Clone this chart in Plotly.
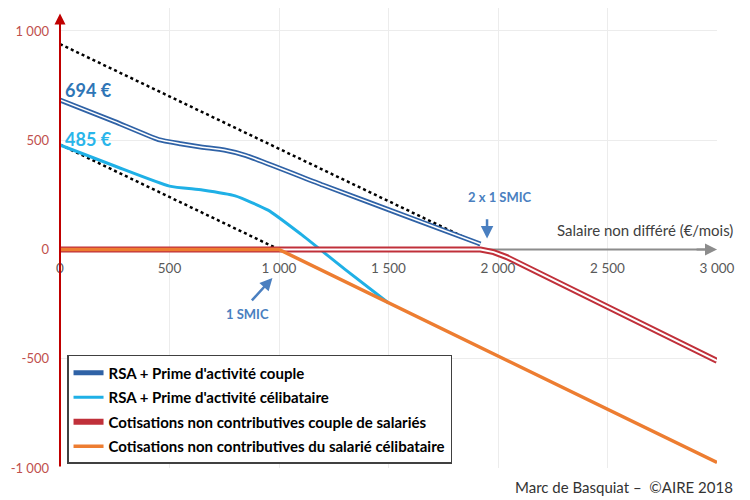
import plotly.graph_objects as go

# ---- data ----
couple_x = [0, 250, 450, 550, 650, 750, 850, 1200, 1600, 1920]
couple_y = [684, 585, 503, 484, 468, 455, 430, 295, 145, 25]

single_x = [0, 250, 500, 650, 800, 950, 1100, 1300, 1500]
single_y = [478, 382, 290, 272, 245, 180, 70, -90, -245]

cot_couple_x = [0, 1920, 1980, 2040, 3000]
cot_couple_y = [0, 0, -12, -35, -510]

cot_single_x = [0, 1000, 3000]
cot_single_y = [0, 0, -975]

dot_couple_x = [0, 1920]
dot_couple_y = [940, 20]
dot_single_x = [0, 1000]
dot_single_y = [480, 0]

x_ticks = [0, 500, 1000, 1500, 2000, 2500, 3000]
x_ticktext = ["0", "500", "1 000", "1 500", "2 000", "2 500", "3 000"]
y_ticks = [-1000, -500, 0, 500, 1000]
y_ticktext = ["-1 000", "-500", "0", "500", "1 000"]

names = ["RSA + Prime d'activité couple",
         "RSA + Prime d'activité célibataire",
         "Cotisations non contributives couple de salariés",
         "Cotisations non contributives du salarié célibataire"]

BLUE_D = "#2f62a6"
BLUE_L = "#1fb0e6"
RED = "#c0303a"
ORANGE = "#ed7d31"
FONT = "Lato"

fig = go.Figure()

# dotted reference lines
for xs, ys in [(dot_couple_x, dot_couple_y), (dot_single_x, dot_single_y)]:
    fig.add_trace(go.Scatter(x=xs, y=ys, mode="lines", showlegend=False,
                             line=dict(color="black", width=2.5, dash="dot"),
                             hoverinfo="skip"))

# couple (double line)
fig.add_trace(go.Scatter(x=couple_x, y=couple_y, mode="lines", name=names[0],
                         legendgroup="a",
                         line=dict(color=BLUE_D, width=5, shape="spline", smoothing=0.4)))
fig.add_trace(go.Scatter(x=couple_x, y=couple_y, mode="lines", showlegend=False,
                         legendgroup="a",
                         line=dict(color="white", width=1.5, shape="spline", smoothing=0.4)))
# single
fig.add_trace(go.Scatter(x=single_x, y=single_y, mode="lines", name=names[1],
                         legendgroup="b",
                         line=dict(color=BLUE_L, width=3, shape="spline", smoothing=0.5)))
# cotisations couple (double line)
fig.add_trace(go.Scatter(x=cot_couple_x, y=cot_couple_y, mode="lines", name=names[2],
                         legendgroup="c",
                         line=dict(color=RED, width=6)))
fig.add_trace(go.Scatter(x=cot_couple_x, y=cot_couple_y, mode="lines", showlegend=False,
                         legendgroup="c",
                         line=dict(color="white", width=2)))
# cotisations single
fig.add_trace(go.Scatter(x=cot_single_x, y=cot_single_y, mode="lines", name=names[3],
                         legendgroup="d",
                         line=dict(color=ORANGE, width=3.5)))

# axes lines
fig.add_shape(type="line", xref="x", yref="y", x0=0, y0=0, x1=2960, y1=0,
              line=dict(color="#8c8c8c", width=2), layer="between")
fig.add_annotation(x=3000, y=0, ax=2900, ay=0, axref="x", ayref="y", xref="x", yref="y",
                   text="", showarrow=True, arrowhead=2, arrowsize=1.2, arrowwidth=2,
                   arrowcolor="#8c8c8c")
fig.add_annotation(x=0, y=1080, ax=0, ay=-1000, axref="x", ayref="y", xref="x", yref="y",
                   text="", showarrow=True, arrowhead=2, arrowsize=1.1, arrowwidth=2,
                   arrowcolor="#c00000")

# labels
fig.add_annotation(x=0.004, xref="paper", y=730, yref="y", text="<b>694 €</b>", showarrow=False,
                   xanchor="left", yanchor="middle", font=dict(family=FONT, size=18, color="#2e75b6"))
fig.add_annotation(x=0.004, xref="paper", y=505, yref="y", text="<b>485 €</b>", showarrow=False,
                   xanchor="left", yanchor="middle", font=dict(family=FONT, size=18, color="#29b5ea"))
fig.add_annotation(x=1950, y=50, ax=1950, ay=145, axref="x", ayref="y", xref="x", yref="y",
                   text="", showarrow=True, arrowhead=2, arrowsize=1, arrowwidth=2.5,
                   arrowcolor="#4a7fc0")
fig.add_annotation(x=2010, y=238, xref="x", yref="y", text="<b>2 x 1 SMIC</b>", showarrow=False,
                   font=dict(family=FONT, size=13, color="#4a7fc0"))
fig.add_annotation(x=970, y=-130, ax=870, ay=-240, axref="x", ayref="y", xref="x", yref="y",
                   text="", showarrow=True, arrowhead=2, arrowsize=1, arrowwidth=2.5,
                   arrowcolor="#4a7fc0")
fig.add_annotation(x=855, y=-293, xref="x", yref="y", text="<b>1 SMIC</b>", showarrow=False,
                   font=dict(family=FONT, size=13, color="#4a7fc0"))
fig.add_annotation(x=1.027, xref="paper", y=87, yref="y", text="Salaire non différé (€/mois)",
                   showarrow=False, xanchor="right", yanchor="middle",
                   font=dict(family=FONT, size=15, color="#404040"))
fig.add_annotation(x=1.027, xref="paper", y=-0.041, yref="paper", text="Marc de Basquiat –  ©AIRE 2018",
                   showarrow=False, xanchor="right", yanchor="middle",
                   font=dict(family=FONT, size=15, color="#333333"))

fig.update_layout(
    width=750, height=500,
    margin=dict(l=60, r=33, t=8, b=32),
    plot_bgcolor="white", paper_bgcolor="white",
    font=dict(family=FONT),
    showlegend=True,
    legend=dict(x=0.0107, y=0.2457, xanchor="left", yanchor="top",
                bgcolor="white", bordercolor="#404040", borderwidth=1.5,
                traceorder="grouped", tracegroupgap=2,
                font=dict(family=FONT, size=15, color="black", weight="bold")),
    xaxis=dict(range=[0, 3000], tickvals=x_ticks, ticktext=x_ticktext,
               showgrid=True, gridcolor="#ececec", gridwidth=1, zeroline=False,
               showline=False, anchor="free", position=1000/2105,
               ticklabelstandoff=9,
               tickfont=dict(family=FONT, size=13.5, color="#595959"), ticks=""),
    yaxis=dict(range=[-1000, 1105], tickvals=y_ticks, ticktext=y_ticktext,
               showgrid=True, gridcolor="#ececec", gridwidth=1, zeroline=False,
               showline=False, ticks="", ticklabelstandoff=10,
               tickfont=dict(family=FONT, size=13, color="#c0504d")),
)

fig.write_html("out.html", config={"displayModeBar": False},
               post_script="document.body.style.margin='0';document.body.style.padding='0';")
